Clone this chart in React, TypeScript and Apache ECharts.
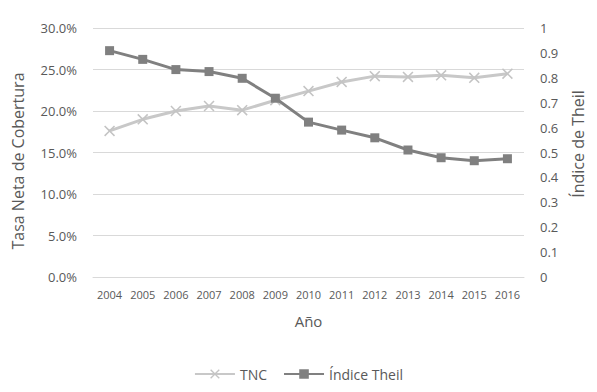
import React, { useEffect, useRef } from "react";
import * as echarts from "echarts";

const years = ["2004","2005","2006","2007","2008","2009","2010","2011","2012","2013","2014","2015","2016"];
const tnc = [17.6, 19.0, 20.0, 20.6, 20.1, 21.3, 22.4, 23.5, 24.2, 24.1, 24.3, 24.0, 24.5];
const theil = [0.909, 0.874, 0.833, 0.825, 0.798, 0.718, 0.622, 0.590, 0.559, 0.510, 0.479, 0.467, 0.475];
const leftTitle = "Tasa Neta de Cobertura";
const rightTitle = "Índice de Theil";

const FONT = "Open Sans";
const TXT = "#595959";
const X_PATH = "path://M1,0 L5,4 L9,0 L10,1 L6,5 L10,9 L9,10 L5,6 L1,10 L0,9 L4,5 L0,1 Z";

export default function App() {
  const ref = useRef<HTMLDivElement>(null);
  useEffect(() => {
    if (!ref.current) return;
    const chart = echarts.init(ref.current, null, { renderer: "svg" });
    chart.setOption({
      animation: false,
      textStyle: { fontFamily: FONT, color: TXT },
      grid: { left: 93, right: 73, top: 28, bottom: 115, containLabel: false },
      legend: {
        bottom: 6,
        left: "center",
        itemWidth: 40,
        itemHeight: 12,
        itemGap: 16,
        textStyle: { fontFamily: FONT, fontSize: 14, color: TXT },
        data: ["TNC", "Índice Theil"],
      },
      graphic: [
        {
          type: "text",
          x: 18,
          y: 161,
          rotation: Math.PI / 2,
          style: { text: leftTitle, fontFamily: FONT, fontSize: 16, fill: TXT, align: "center", verticalAlign: "middle" },
        },
        {
          type: "text",
          x: 578,
          y: 144,
          rotation: Math.PI / 2,
          style: { text: rightTitle, fontFamily: FONT, fontSize: 16, fill: TXT, align: "center", verticalAlign: "middle" },
        },
      ],
      xAxis: {
        type: "category",
        data: years,
        boundaryGap: true,
        name: "Año",
        nameLocation: "middle",
        nameGap: 36,
        nameTextStyle: { fontFamily: FONT, fontSize: 15, color: TXT },
        axisLine: { show: true, lineStyle: { color: "#d9d9d9" } },
        axisTick: { show: false },
        axisLabel: { fontFamily: FONT, fontSize: 11, color: TXT, margin: 12, interval: 0 },
      },
      yAxis: [
        {
          type: "value",
          min: 0,
          max: 30,
          interval: 5,
          axisLine: { show: false },
          axisTick: { show: false },
          axisLabel: { fontFamily: FONT, fontSize: 13, color: TXT, margin: 16, formatter: (v: number) => v.toFixed(1) + "%" },
          splitLine: { show: true, lineStyle: { color: "#d9d9d9", width: 1 } },
        },
        {
          type: "value",
          min: 0,
          max: 1,
          interval: 0.1,
          axisLine: { show: false },
          axisTick: { show: false },
          axisLabel: { fontFamily: FONT, fontSize: 13, color: TXT, margin: 16, formatter: (v: number) => String(Math.round(v * 10) / 10) },
          splitLine: { show: false },
        },
      ],
      series: [
        {
          name: "TNC",
          type: "line",
          yAxisIndex: 0,
          data: tnc,
          symbol: X_PATH,
          symbolSize: 11,
          lineStyle: { color: "#c8c8c8", width: 3 },
          itemStyle: { color: "#c4c4c4" },
          z: 2,
        },
        {
          name: "Índice Theil",
          type: "line",
          yAxisIndex: 1,
          data: theil,
          symbol: "rect",
          symbolSize: 9,
          lineStyle: { color: "#808080", width: 3 },
          itemStyle: { color: "#808080" },
          z: 3,
        },
      ],
    });
    return () => chart.dispose();
  }, []);
  return <div ref={ref} style={{ width: 597, height: 392, position: "absolute", left: 0, top: 0 }} />;
}
